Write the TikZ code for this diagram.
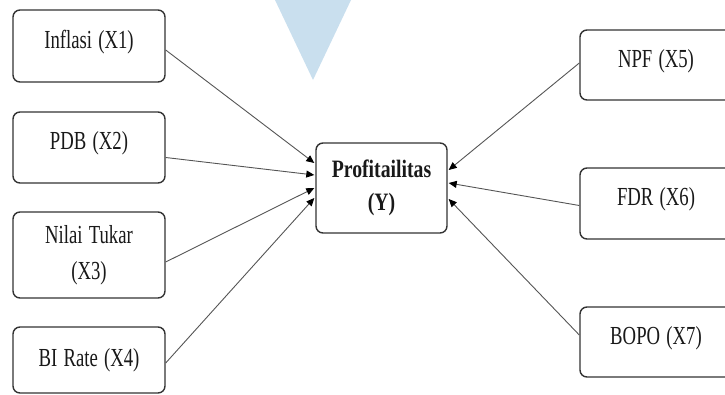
\documentclass[tikz,border=0pt]{standalone}
\usepackage{fontspec}
\setmainfont{Liberation Serif}
\usetikzlibrary{arrows.meta}
\definecolor{tri}{HTML}{C9DFEE}
\definecolor{edge}{HTML}{333333}
\definecolor{conn}{HTML}{555555}
\newcommand{\nw}[1]{\scalebox{0.72}[1]{#1}}
\newcommand{\bw}[1]{\scalebox{0.79}[1]{#1}}
\tikzset{
  box/.style={draw=edge, line width=1.4pt, rounded corners=7pt, fill=white,
    minimum width=152pt, text width=140pt, align=center, inner sep=0pt,
    font=\fontsize{26}{36}\selectfont, text=black!90},
  conn/.style={draw=conn, line width=0.9pt, -{Triangle[black,length=8pt,width=7pt]}}
}
\begin{document}
\begin{tikzpicture}[x=1pt,y=-1pt]
\useasboundingbox (0,0) rectangle (725,394);
\clip (0,0) rectangle (725,394);
\fill[tri] (275,0) -- (351,0) -- (313,80) -- cycle;
% left boxes
\node[box, minimum height=72pt, text depth=14pt] (x1) at (89,46) {\nw{Inflasi (X1)}};
\node[box, minimum height=71pt, text depth=14pt] (x2) at (89,147.5) {\nw{PDB (X2)}};
\node[box, minimum height=86pt] (x3) at (89,255) {\nw{Nilai Tukar}\\\nw{(X3)}};
\node[box, minimum height=66pt] (x4) at (89,360) {\nw{BI Rate (X4)}};
% center
\node[box, minimum width=131pt, text width=125pt, minimum height=90pt, font=\fontsize{25}{33}\selectfont\bfseries] (y) at (381.5,188) {\bw{Profitailitas}\\\bw{(Y)}};
% right boxes
\node[box, minimum height=70pt, text depth=14pt] (x5) at (656,65) {\nw{NPF (X5)}};
\node[box, minimum height=71pt, text depth=14pt] (x6) at (656,203.5) {\nw{FDR (X6)}};
\node[box, minimum height=70pt, text depth=14pt] (x7) at (656,342) {\nw{BOPO (X7)}};
% connectors
\draw[conn] ([yshift=-4pt]x1.east) -- ([yshift=25pt,xshift=-1pt]y.west);
\draw[conn] ([yshift=-10pt]x2.east) -- ([yshift=13pt,xshift=-1pt]y.west);
\draw[conn] ([yshift=-7pt]x3.east) -- ([yshift=0pt,xshift=-1pt]y.west);
\draw[conn] ([yshift=-3pt]x4.east) -- ([yshift=-10pt,xshift=-1pt]y.west);
\draw[conn] ([yshift=2pt]x5.west) -- ([yshift=18pt,xshift=1pt]y.east);
\draw[conn] ([yshift=-2pt]x6.west) -- ([yshift=5pt,xshift=1pt]y.east);
\draw[conn] ([yshift=7pt]x7.west) -- ([yshift=-11pt,xshift=1pt]y.east);
\end{tikzpicture}
\end{document}
